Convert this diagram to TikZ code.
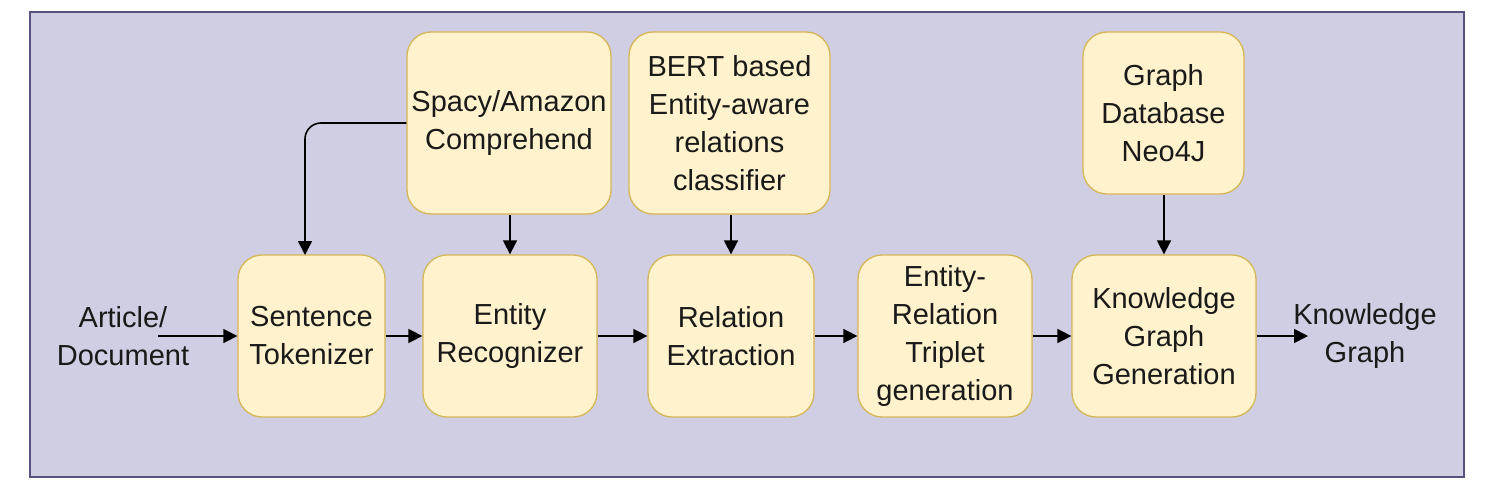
\documentclass[tikz,border=0pt]{standalone}
\usepackage{fontspec}
\setmainfont{Liberation Sans}
\usetikzlibrary{arrows.meta}
\definecolor{bgfill}{HTML}{D0CEE2}
\definecolor{bgline}{HTML}{56517E}
\definecolor{boxfill}{HTML}{FFF2CC}
\definecolor{boxline}{HTML}{D6B656}
\definecolor{txt}{HTML}{1A1A1A}
\tikzset{
  stagebox/.style={draw=boxline, fill=boxfill, line width=1.3pt, rounded corners=24pt,
    align=center, inner sep=2pt, text=txt, font=\fontsize{29}{38}\selectfont},
  plaintext/.style={align=center, inner sep=0pt, text=txt, font=\fontsize{29}{38}\selectfont},
  flow/.style={line width=1.6pt, -{Triangle[length=14pt,width=14pt]}}
}
\begin{document}
\begin{tikzpicture}[x=1pt,y=-1pt]
\useasboundingbox (0,0) rectangle (1496,492);
\draw[bgline, fill=bgfill, line width=1.5pt] (30,12) rectangle (1464,477);

\node[stagebox, minimum width=147pt, minimum height=162pt] (tok) at (311.5,336) {Sentence\\Tokenizer};
\node[stagebox, minimum width=174pt, minimum height=162pt] (ent) at (510,336) {Entity\\Recognizer};
\node[stagebox, minimum width=166pt, minimum height=162pt] (rel) at (731,336) {Relation\\Extraction};
\node[stagebox, minimum width=174pt, minimum height=162pt] (trip) at (945,336) {Entity-\\Relation\\Triplet\\generation};
\node[stagebox, minimum width=184pt, minimum height=162pt] (kgg) at (1164,336) {Knowledge\\Graph\\Generation};

\node[stagebox, minimum width=204pt, minimum height=182pt] (spacy) at (509,123) {Spacy/Amazon\\Comprehend};
\node[stagebox, minimum width=201pt, minimum height=182pt] (bert) at (729.5,123) {BERT based\\Entity-aware\\relations\\classifier};
\node[stagebox, minimum width=161pt, minimum height=162pt] (gdb) at (1163.5,113) {Graph\\Database\\Neo4J};

\node[plaintext] (art) at (123,336) {Article/\\Document};
\node[plaintext] (kgout) at (1365,336) {Knowledge\\Graph};

\coordinate (artstart) at (158,336);
\coordinate (kgend) at (1308,336);
\coordinate (tokin) at (305,255);

\draw[flow] (artstart) -- (tok.west);
\draw[flow] (tok.east) -- (ent.west);
\draw[flow] (ent.east) -- (rel.west);
\draw[flow] (rel.east) -- (trip.west);
\draw[flow] (trip.east) -- (kgg.west);
\draw[flow] (kgg.east) -- (kgend);

\draw[flow, rounded corners=16pt] (spacy.west) -| (tokin);
\draw[flow] (spacy.south -| ent.north) -- (ent.north);
\draw[flow] (bert.south -| rel.north) -- (rel.north);
\draw[flow] (gdb.south -| kgg.north) -- (kgg.north);
\end{tikzpicture}
\end{document}
